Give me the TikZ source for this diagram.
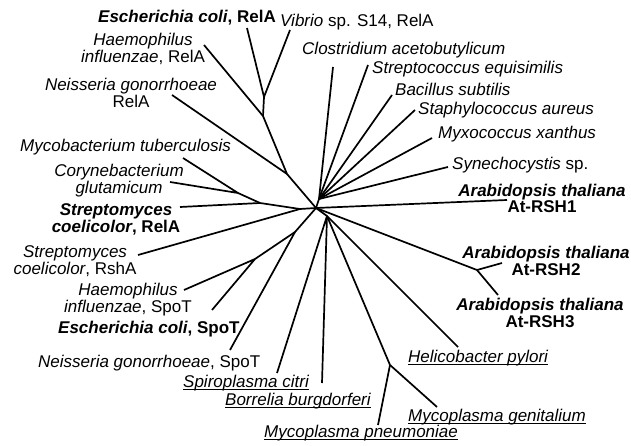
\documentclass[tikz,border=0pt]{standalone}
\usepackage{fontspec}
\setmainfont{Liberation Sans}

\newcommand{\undl}[1]{\setbox0=\hbox{#1}\rlap{\vrule width\wd0 height -2.2pt depth 3.2pt}\box0}

\begin{document}
\begin{tikzpicture}[
  x=1pt, y=-1pt,
  font=\fontsize{17}{17}\selectfont,
  branch/.style={line width=1.7pt, line join=round},
  taxon/.style={inner sep=0pt, anchor=base west},
  taxonc/.style={inner sep=0pt, anchor=base, align=center}
]
\useasboundingbox (0,0) rectangle (631,446);

\node[taxon] (ecoliRelA) at (98,23) {\textbf{\textit{Escherichia coli}, RelA}};
\node[taxon] (vibrio) at (280,27) {\textit{Vibrio} sp. S14, RelA};
\node[taxonc] (haemRelA) at (143,63) {\textit{Haemophilus}\\\textit{influenzae}, RelA};
\node[taxonc] (neisRelA) at (131,108) {\textit{Neisseria gonorrhoeae}\\RelA};
\node[taxon] (mycob) at (20,152) {\textit{Mycobacterium tuberculosis}};
\node[taxonc] (coryne) at (119,194) {\textit{Corynebacterium}\\\textit{glutamicum}};
\node[taxonc] (strepRelA) at (116,233) {\textbf{\textit{Streptomyces}}\\\textbf{\textit{coelicolor}, RelA}};
\node[taxonc] (strepRshA) at (75,274) {\textit{Streptomyces}\\\textit{coelicolor}, RshA};
\node[taxonc] (haemSpoT) at (128,312) {\textit{Haemophilus}\\\textit{influenzae}, SpoT};
\node[taxon] (ecoliSpoT) at (58,333) {\textbf{\textit{Escherichia coli}, SpoT}};
\node[taxon] (neisSpoT) at (38,367) {\textit{Neisseria gonorrhoeae}, SpoT};
\node[taxon] (spiro) at (183,387) {\undl{\textit{Spiroplasma citri}}};
\node[taxon] (borrel) at (225,405) {\undl{\textit{Borrelia burgdorferi}}};
\node[taxon] (mpneu) at (264,437) {\undl{\textit{Mycoplasma pneumoniae}}};
\node[taxon] (mgen) at (408,421) {\undl{\textit{Mycoplasma genitalium}}};
\node[taxon] (helico) at (408,362) {\undl{\textit{Helicobacter pylori}}};
\node[taxonc] (rsh3) at (540,327) {\textbf{\textit{Arabidopsis thaliana}}\\\textbf{At-RSH3}};
\node[taxonc] (rsh2) at (546,275) {\textbf{\textit{Arabidopsis thaliana}}\\\textbf{At-RSH2}};
\node[taxonc] (rsh1) at (542,213) {\textbf{\textit{Arabidopsis thaliana}}\\\textbf{At-RSH1}};
\node[taxon] (synech) at (452,170) {\textit{Synechocystis} sp.};
\node[taxon] (myxo) at (438,139) {\textit{Myxococcus xanthus}};
\node[taxon] (staph) at (418,115) {\textit{Staphylococcus aureus}};
\node[taxon] (bacil) at (395,96) {\textit{Bacillus subtilis}};
\node[taxon] (strepeq) at (372,74) {\textit{Streptococcus equisimilis}};
\node[taxon] (clostr) at (302,55) {\textit{Clostridium acetobutylicum}};

\coordinate (ecoliRelA-tip) at (247,28);
\coordinate (vibrio-tip) at (290,30);
\coordinate (haemRelA-tip) at (204,45);
\coordinate (neisRelA-tip) at (172,95);
\coordinate (mycob-tip) at (183,158);
\coordinate (coryne-tip) at (170,182);
\coordinate (strepRelA-tip) at (180,207);
\coordinate (strepRshA-tip) at (138,255);
\coordinate (haemSpoT-tip) at (184,290);
\coordinate (ecoliSpoT-tip) at (212,310);
\coordinate (neisSpoT-tip) at (230,350);
\coordinate (spiro-tip) at (277,373);
\coordinate (borrel-tip) at (322,383);
\coordinate (mpneu-tip) at (378,425);
\coordinate (mgen-tip) at (437,407);
\coordinate (helico-tip) at (458,347);
\coordinate (rsh3-tip) at (498,295);
\coordinate (rsh2-tip) at (502,263);
\coordinate (rsh1-tip) at (507,200);
\coordinate (synech-tip) at (448,167);
\coordinate (myxo-tip) at (432,138);
\coordinate (staph-tip) at (415,110);
\coordinate (bacil-tip) at (392,95);
\coordinate (strepeq-tip) at (368,65);
\coordinate (clostr-tip) at (333,67);

\coordinate (root) at (316,208);
\coordinate (jfan) at (319,199);
\coordinate (j1) at (264,97);
\coordinate (j2) at (263,116);
\coordinate (j3) at (287,174);
\coordinate (ja) at (238,193);
\coordinate (jb) at (260,203);
\coordinate (jd) at (300,209);
\coordinate (je) at (295,232);
\coordinate (jf) at (255,259);
\coordinate (jl) at (327,216);
\coordinate (jm) at (390,365);
\coordinate (jr) at (477,270);

\draw[branch] (ecoliRelA-tip) -- (j1) -- (vibrio-tip);
\draw[branch] (j1) -- (j2) -- (j3) -- (root);
\draw[branch] (haemRelA-tip) -- (j2);
\draw[branch] (neisRelA-tip) -- (j3);
\draw[branch] (mycob-tip) -- (ja) -- (coryne-tip);
\draw[branch] (ja) -- (jb) -- (jd) -- (root);
\draw[branch] (strepRelA-tip) -- (jb);
\draw[branch] (strepRshA-tip) -- (jd);
\draw[branch] (haemSpoT-tip) -- (jf) -- (ecoliSpoT-tip);
\draw[branch] (jf) -- (je) -- (root);
\draw[branch] (neisSpoT-tip) -- (je);
\draw[branch] (root) -- (jl);
\draw[branch] (spiro-tip) -- (jl) -- (borrel-tip);
\draw[branch] (jl) -- (helico-tip);
\draw[branch] (jl) -- (jm) -- (mgen-tip);
\draw[branch] (jm) -- (mpneu-tip);
\draw[branch] (root) -- (jr) -- (rsh2-tip);
\draw[branch] (jr) -- (rsh3-tip);
\draw[branch] (root) -- (rsh1-tip);
\draw[branch] (root) -- (jfan);
\draw[branch] (jfan) -- (clostr-tip);
\draw[branch] (jfan) -- (strepeq-tip);
\draw[branch] (jfan) -- (bacil-tip);
\draw[branch] (jfan) -- (staph-tip);
\draw[branch] (jfan) -- (myxo-tip);
\draw[branch] (jfan) -- (synech-tip);

\end{tikzpicture}
\end{document}
